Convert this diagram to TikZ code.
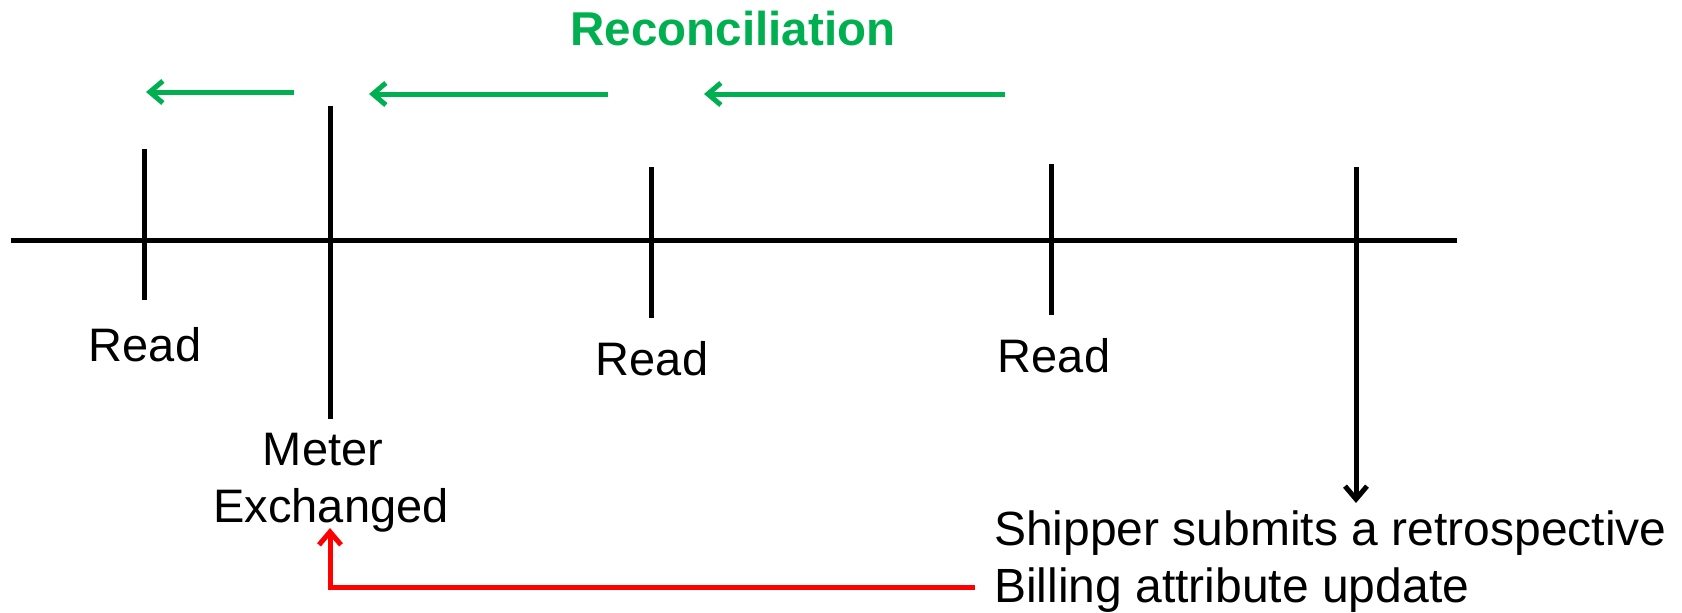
\documentclass[tikz,border=0pt]{standalone}
\usepackage{fontspec}
\setmainfont{Liberation Sans}
\usetikzlibrary{arrows.meta,calc}
\definecolor{recgreen}{RGB}{0,176,80}
\definecolor{updred}{RGB}{255,0,0}
\begin{document}
\begin{tikzpicture}[x=1pt,y=-1pt,
  axisline/.style={line width=5pt,black},
  tickline/.style={line width=5pt,black},
  recarrow/.style={line width=5pt,recgreen,-{Straight Barb[length=13pt,width=22pt]}},
  blackarrow/.style={line width=5pt,black,-{Straight Barb[length=13pt,width=22pt]}},
  redarrow/.style={line width=5pt,updred,-{Straight Barb[length=13pt,width=22pt]}},
  lbl/.style={inner sep=0pt,font=\fontsize{47}{57}\selectfont},
  shiplbl/.style={inner sep=0pt,font=\fontsize{48}{57}\selectfont},
  ttl/.style={inner sep=0pt,text=recgreen,font=\fontsize{47.5}{57}\selectfont\bfseries}]
\useasboundingbox (0,0) rectangle (1682,613);
% title
\node[ttl,anchor=base] (title) at (733,45) {Reconciliation};
% green arrows
\coordinate (g1s) at (294,92); \coordinate (g1e) at (146,92);
\coordinate (g2s) at (608,94); \coordinate (g2e) at (369,94);
\coordinate (g3s) at (1005,94); \coordinate (g3e) at (704,94);
\draw[recarrow] (g1s) -- (g1e);
\draw[recarrow] (g2s) -- (g2e);
\draw[recarrow] (g3s) -- (g3e);
% axis
\coordinate (axL) at (11,240); \coordinate (axR) at (1457,240);
\draw[axisline] (axL) -- (axR);
% ticks
\coordinate (t1a) at (144,149); \coordinate (t1b) at (144,300);
\coordinate (t2a) at (330,106); \coordinate (t2b) at (330,419);
\coordinate (t3a) at (651,167); \coordinate (t3b) at (651,318);
\coordinate (t4a) at (1051,164); \coordinate (t4b) at (1051,315);
\coordinate (t5a) at (1356,167);
\draw[tickline] (t1a) -- (t1b);
\draw[tickline] (t2a) -- (t2b);
\draw[tickline] (t3a) -- (t3b);
\draw[tickline] (t4a) -- (t4b);
% labels
\node[lbl,anchor=base] (read1) at (145,361) {Read};
\node[lbl,anchor=base] (read2) at (652,375) {Read};
\node[lbl,anchor=base] (read3) at (1054,372) {Read};
\node[lbl,anchor=base] (meter1) at (323,465) {Meter};
\node[lbl,anchor=base] (meter2) at (331,522) {Exchanged};
\node[shiplbl,anchor=base west] (ship1) at (994,545) {Shipper submits a retrospective};
\node[shiplbl,anchor=base west] (ship2) at (994,602) {Billing attribute update};
% black arrow down to shipper text
\coordinate (t5e) at ($(ship1.base west)+(362,-42)$);
\draw[blackarrow] (t5a) -- (t5e);
% red arrow
\coordinate (rs) at ($(ship2.base west)+(-19,-15)$);
\coordinate (re) at ($(meter2.base)+(-1,6)$);
\draw[redarrow] (rs) -| (re);
\end{tikzpicture}
\end{document}
